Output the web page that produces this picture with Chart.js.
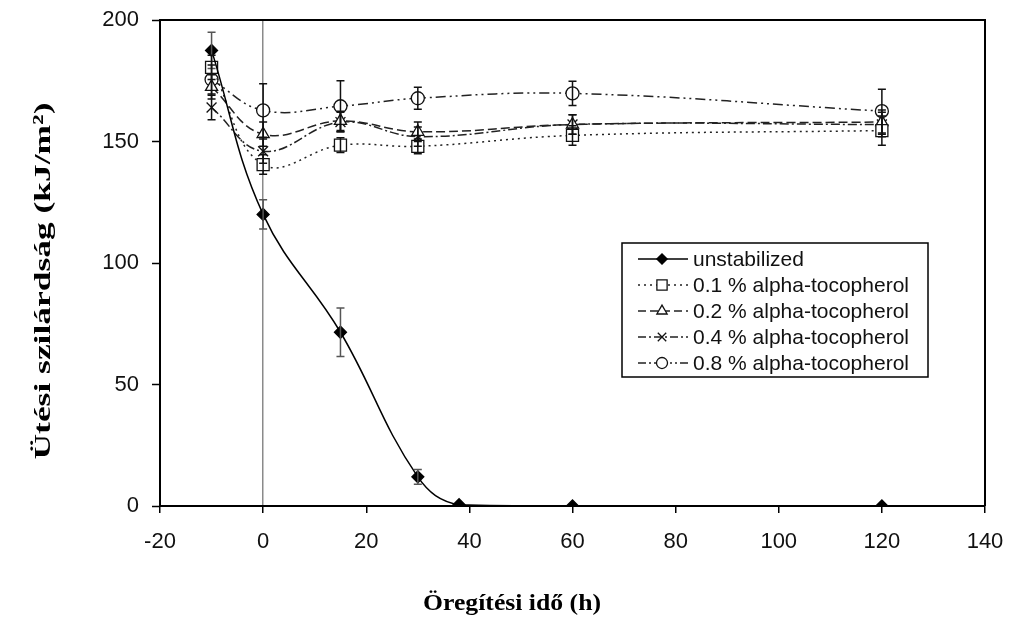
<!DOCTYPE html>
<html>
<head>
<meta charset="utf-8">
<script src="https://cdn.jsdelivr.net/npm/chart.js@4.4.1/dist/chart.umd.min.js"></script>
<style>
html,body{margin:0;padding:0;background:#fff;}
#wrap{width:1009px;height:623px;position:relative;}
</style>
</head>
<body>
<div id="wrap"><canvas id="c"></canvas></div>
<script>
// ---- data ----
const timeStab = [-10, 0, 15, 30, 60, 120];
const timeUnstab = [-10, 0, 15, 30, 38, 60, 120];
const unstab   = [187.5, 120, 71.5, 12, 0.5, 0, 0];
const unstabErr= [7.5, 6, 10, 3, 0, 0, 0];
const toc01    = [180.5, 140.5, 148.5, 148, 152.5, 154.5];
const toc01Err = [5, 4, 3, 3, 4, 6];
const toc02    = [172.5, 153, 158.5, 154, 157, 158];
const toc02Err = [5, 5, 4, 4, 4, 5];
const toc04    = [164, 146, 158, 152, 157, 157];
const toc04Err = [5, 5, 4, 4, 4, 5];
const toc08    = [175.5, 162.8, 164.5, 167.8, 169.8, 162.5];
const toc08Err = [6, 11, 10.5, 4.5, 5, 9];
const seriesLabels = ['unstabilized','0.1 % alpha-tocopherol','0.2 % alpha-tocopherol','0.4 % alpha-tocopherol','0.8 % alpha-tocopherol'];
const xTitle = 'Öregítési idő (h)';
const yTitle = 'Ütési szilárdság (kJ/m²)';

function pts(xs, ys){ return xs.map((x,i)=>({x:x, y:ys[i]})); }

const dsBase = {borderWidth:1.5, tension:0.4, fill:false, pointBorderWidth:1.3};
const datasets = [
  Object.assign({}, dsBase, {label:seriesLabels[0], data:pts(timeUnstab,unstab), errs:unstabErr, errColor:'#555',
    borderColor:'#000', pointStyle:'rectRot', pointRadius:6, pointBackgroundColor:'#000', pointBorderColor:'#000', borderDash:[], legendDash:[]}),
  Object.assign({}, dsBase, {label:seriesLabels[1], data:pts(timeStab,toc01), errs:toc01Err, errColor:'#111',
    borderColor:'#222', pointStyle:'rect', pointRadius:8.5, pointBackgroundColor:'#fff', pointBorderColor:'#111', borderDash:[2,4], legendDash:[2,4]}),
  Object.assign({}, dsBase, {label:seriesLabels[2], data:pts(timeStab,toc02), errs:toc02Err, errColor:'#111',
    borderColor:'#222', pointStyle:'triangle', pointRadius:7, pointBackgroundColor:'#fff', pointBorderColor:'#111', borderDash:[9,4], legendDash:[8,4]}),
  Object.assign({}, dsBase, {label:seriesLabels[3], data:pts(timeStab,toc04), errs:toc04Err, errColor:'#111',
    borderColor:'#222', pointStyle:'crossRot', pointRadius:7, pointBackgroundColor:'#fff', pointBorderColor:'#111', borderDash:[9,3,2,3], legendDash:[8,3,2,3]}),
  Object.assign({}, dsBase, {label:seriesLabels[4], data:pts(timeStab,toc08), errs:toc08Err, errColor:'#111',
    borderColor:'#222', pointStyle:'circle', pointRadius:6.5, pointBackgroundColor:'#fff', pointBorderColor:'#111', borderDash:[10,4,2,4,2,4], legendDash:[8,3,2,3,2,3]})
];

const frameAndErrors = {
  id:'frameAndErrors',
  afterDatasetsDraw(chart){
    const ctx = chart.ctx, xs = chart.scales.x, ys = chart.scales.y;
    ctx.save();
    chart.data.datasets.forEach(ds=>{
      ctx.strokeStyle = ds.errColor; ctx.lineWidth = 1.5; ctx.setLineDash([]);
      ds.data.forEach((p,i)=>{
        const e = ds.errs[i]; if(!e) return;
        const px = xs.getPixelForValue(p.x);
        const t = ys.getPixelForValue(p.y+e), b = ys.getPixelForValue(p.y-e);
        ctx.beginPath();
        ctx.moveTo(px,t); ctx.lineTo(px,b);
        ctx.moveTo(px-4,t); ctx.lineTo(px+4,t);
        ctx.moveTo(px-4,b); ctx.lineTo(px+4,b);
        ctx.stroke();
      });
    });
    ctx.restore();
  },
  afterDraw(chart){
    const ctx = chart.ctx, a = chart.chartArea;
    ctx.save();
    // frame (top & right)
    ctx.strokeStyle='#000'; ctx.lineWidth=2; ctx.setLineDash([]);
    ctx.beginPath(); ctx.moveTo(a.left,a.top); ctx.lineTo(a.right,a.top); ctx.lineTo(a.right,a.bottom); ctx.stroke();
    // legend box
    const bx=622, by=243, bw=306, bh=134;
    ctx.fillStyle='#fff'; ctx.fillRect(bx,by,bw,bh);
    ctx.strokeStyle='#000'; ctx.lineWidth=1.5; ctx.strokeRect(bx,by,bw,bh);
    ctx.font='21px "Liberation Sans", Arial, sans-serif';
    ctx.textBaseline='middle'; ctx.textAlign='left';
    chart.data.datasets.forEach((ds,i)=>{
      const y = by + 16 + i*26;
      ctx.strokeStyle = ds.borderColor; ctx.lineWidth=1.5; ctx.setLineDash(ds.legendDash);
      ctx.beginPath(); ctx.moveTo(638,y); ctx.lineTo(688,y); ctx.stroke();
      ctx.setLineDash([]);
      ctx.fillStyle = ds.pointBackgroundColor; ctx.strokeStyle = ds.pointBorderColor; ctx.lineWidth=1.3;
      Chart.helpers.drawPoint(ctx, {pointStyle:ds.pointStyle, rotation:0, radius:ds.pointRadius*0.85, borderWidth:1.3}, 662, y);
      ctx.fillStyle='#111';
      ctx.fillText(ds.label, 693, y+1);
    });
    // axis titles
    ctx.fillStyle='#000';
    ctx.font='bold 24px "Liberation Serif", "Times New Roman", serif';
    ctx.textAlign='center'; ctx.textBaseline='middle';
    let w = ctx.measureText(yTitle).width;
    ctx.save();
    ctx.translate(44, 281); ctx.rotate(-Math.PI/2);
    ctx.scale(357/w, 1);
    ctx.fillText(yTitle, 0, 0);
    ctx.restore();
    ctx.font='bold 23px "Liberation Serif", "Times New Roman", serif';
    w = ctx.measureText(xTitle).width;
    ctx.save();
    ctx.translate(512, 604);
    ctx.scale(178/w, 1);
    ctx.fillText(xTitle, 0, 0);
    ctx.restore();
    ctx.restore();
  }
};

new Chart(document.getElementById('c'), {
  type:'line',
  data:{datasets:datasets},
  plugins:[frameAndErrors],
  options:{
    responsive:true, maintainAspectRatio:false, animation:false,
    layout:{padding:{top:20,right:24,left:0,bottom:0}},
    plugins:{legend:{display:false}, tooltip:{enabled:false}},
    scales:{
      x:{type:'linear', min:-20, max:140,
        ticks:{stepSize:20, color:'#111', padding:16, font:{family:'"Liberation Sans", Arial, sans-serif', size:22}},
        grid:{drawOnChartArea:true, color:(c)=> (c.tick && c.tick.value===0) ? '#8a8a8a' : 'rgba(0,0,0,0)', lineWidth:1.5, tickColor:'#000', tickLength:7, tickWidth:1.5},
        border:{color:'#000', width:2},
        afterFit(s){ s.height = 117; s.paddingLeft = 0; s.paddingRight = 0; }
      },
      y:{min:0, max:200,
        ticks:{stepSize:50, color:'#111', padding:13, font:{family:'"Liberation Sans", Arial, sans-serif', size:22}},
        grid:{drawOnChartArea:false, tickColor:'#000', tickLength:8, tickWidth:1.5},
        border:{color:'#000', width:2},
        afterFit(s){ s.width = 160; s.paddingTop = 0; s.paddingBottom = 0; }
      }
    }
  }
});
</script>
</body>
</html>
